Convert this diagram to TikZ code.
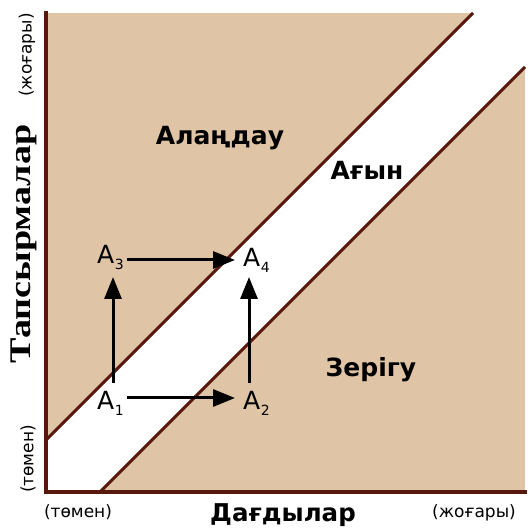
\documentclass[tikz,border=0pt]{standalone}
\usepackage{fontspec}
\setmainfont{DejaVu Sans}
\newfontfamily\serifb{Liberation Serif}
\usetikzlibrary{arrows.meta}
\definecolor{tanbg}{RGB}{223,196,166}
\definecolor{brownln}{RGB}{88,24,14}
\newcommand{\apt}[1]{A\kern0.5pt\raisebox{-6pt}{\fontsize{14}{14}\selectfont #1}}
\begin{document}
\begin{tikzpicture}[x=1pt,y=1pt,
  zone/.style={font=\bfseries\fontsize{25}{28}\selectfont, inner sep=0pt, anchor=base},
  pt/.style={font=\fontsize{25}{28}\selectfont, inner sep=0pt, anchor=base west},
  arr/.style={line width=3pt, -{Triangle[length=22pt,width=17pt]}},
  small/.style={font=\fontsize{17}{20}\selectfont, inner sep=0pt},
  bdr/.style={draw=brownln, line width=3.4pt}]
\useasboundingbox (0,0) rectangle (527,529);
% background tan
\fill[tanbg] (46,37) rectangle (525,516);
% white band
\fill[white] (46,89) -- (473,516) -- (525,516) -- (525,462) -- (100,37) -- (46,37) -- cycle;
% diagonal lines
\coordinate (u1) at (46,89);
\coordinate (u2) at (473,516);
\coordinate (l1) at (100,37);
\coordinate (l2) at (525,462);
\draw[brownln, line width=3pt] (u1) -- (u2);
\draw[brownln, line width=3pt] (l1) -- (l2);
% axes
\coordinate (top) at (46,516);
\coordinate (org) at (46,37);
\coordinate (rgt) at (525,37);
\draw[bdr, line cap=rect] (top) -- (org) -- (rgt);
% zone labels
\node[zone] (distr) at (220,384) {Алаңдау};
\node[zone] (flow) at (367,349) {Ағын};
\node[zone] (bore) at (371,152) {Зерігу};
% points
\node[pt] (A1) at (97,119) {\apt{1}};
\node[pt] (A2) at (243,119) {\apt{2}};
\node[pt] (A3) at (97,265) {\apt{3}};
\node[pt] (A4) at (243,262) {\apt{4}};
\draw[arr] ([shift={(16,27)}]A1.base west) -- ([shift={(16,-13)}]A3.base west);
\draw[arr] ([shift={(6,27)}]A2.base west) -- ([shift={(6,-10)}]A4.base west);
\draw[arr] ([shift={(30,12)}]A1.base west) -- ([shift={(-8,12)}]A2.base west);
\draw[arr] ([shift={(30,4)}]A3.base west) -- ([shift={(-8,7)}]A4.base west);
% axis labels
\node[rotate=90, inner sep=0pt] (ylab) at (24,285) {\scalebox{1.27}[1]{\serifb\bfseries\fontsize{30}{32}\selectfont Тапсырмалар}};
\node[small, rotate=90] (yhigh) at (27,474) {(жоғары)};
\node[small, rotate=90] (ylow) at (28,70) {(төмен)};
\node[small, anchor=base] (xlow) at (78,12) {(төмен)};
\node[font=\bfseries\fontsize{24.5}{26}\selectfont, inner sep=0pt, anchor=base] (xlab) at (283,8) {Дағдылар};
\node[small, anchor=base] (xhigh) at (474,12) {(жоғары)};
\end{tikzpicture}
\end{document}
